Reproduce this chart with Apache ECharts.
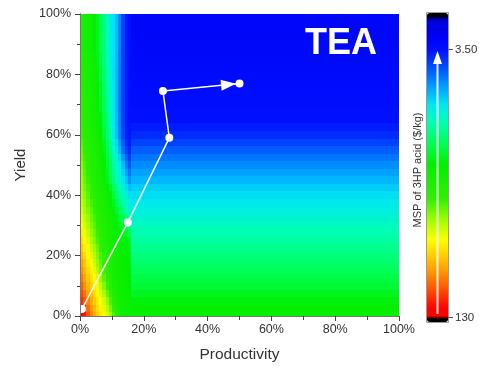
<!DOCTYPE html>
<html>
<head>
<meta charset="utf-8">
<script src="https://cdn.jsdelivr.net/npm/echarts@6/dist/echarts.min.js"></script>
<style>
  html, body { margin: 0; padding: 0; background: #fff; }
  #chart { width: 479px; height: 368px; }
</style>
</head>
<body>
<div id="chart"></div>
<script>
// ---- Data ---------------------------------------------------------------
// Low-productivity band: productivity columns (%), each cell spans [p, p + 1]
const bandProductivity = [0, 1, 2, 3, 4, 5, 6, 7, 8, 9, 10, 11, 12, 13, 14, 15];
// Yield rows (%) of the band
const bandYield = [0, 2.5, 5, 7.5, 10, 12.5, 15, 17.5, 20, 22.5, 25, 27.5, 30, 32.5, 35, 37.5,
  40, 42.5, 45, 47.5, 50, 52.5, 55, 57.5, 60, 65, 70, 75, 80, 85, 90, 95, 100];
// MSP of 3HP acid ($/kg) in the band, one row per yield
const bandMSP = [
  [125, 110, 90, 75, 65, 57, 50, 46, 40, 35, 28, 23, 20, 19, 18.5, 18],
  [112, 99, 82, 70, 61, 53, 48, 43, 37, 31, 26, 22, 20, 19, 18.2, 17.8],
  [100, 88, 75, 65, 57, 50, 46, 40, 34, 28, 24, 21, 19.5, 18.5, 18, 17.5],
  [92, 80, 68, 60, 53, 47, 42, 36, 30, 26, 22.5, 20.5, 19.2, 18.2, 17.7, 17.2],
  [85, 72, 62, 55, 49, 45, 38, 32, 27, 24, 21, 20, 19, 18, 17.5, 17],
  [78, 67, 58, 51, 46, 41, 34, 29, 25.5, 23, 20.5, 19.5, 18.5, 17.7, 17.2, 16.8],
  [72, 62, 54, 48, 43, 37, 31, 27, 24, 22, 20, 19, 18, 17.5, 17, 16.5],
  [67, 58, 50, 45, 40, 34, 29.5, 26, 23.5, 21.5, 20, 19, 18, 17.2, 16.7, 16.2],
  [62, 54, 47, 42, 37, 32, 28, 25, 23, 21, 20, 19, 18, 17, 16.5, 16],
  [57, 50, 44, 39, 34.5, 30, 26.5, 24, 22, 20.5, 19.5, 18.5, 17.5, 16.8, 16.2, 15.5],
  [53, 47, 41, 36, 32, 28, 25, 23, 21, 20, 19, 18, 17, 16.5, 16, 15],
  [49, 44, 38.5, 34, 30.5, 27, 24.5, 22.5, 21, 20, 18.8, 17.5, 16.3, 15.3, 14.3, 13],
  [46, 41, 36, 32, 29, 26, 24, 22, 21, 20, 18.5, 17, 15.5, 14, 12.5, 11],
  [43.5, 38.5, 34, 30.5, 27.5, 25, 23, 21.5, 20.5, 19.3, 17.5, 15.8, 14, 12.5, 11, 9.8],
  [41, 36, 32, 29, 26, 24, 22, 21, 20, 18.5, 16.5, 14.5, 12.5, 11, 9.5, 8.5],
  [39, 34.5, 30.5, 27.5, 25, 23, 21.5, 20.5, 19, 17.3, 15.2, 13.2, 11.2, 10, 8.7, 7.8],
  [37, 33, 29, 26, 24, 22, 21, 20, 18, 16, 14, 12, 10, 9, 8, 7.2],
  [36, 31.5, 28, 25, 23, 21.5, 20.5, 19, 16.5, 14.5, 12.5, 10.7, 9.2, 8.2, 7.2, 6.4],
  [35, 30, 27, 24, 22, 21, 20, 18, 15, 13, 11, 9.5, 8.5, 7.5, 6.5, 5.6],
  [34, 29, 26, 23.5, 22, 21, 19.5, 17.5, 14.5, 12.5, 10.5, 9.1, 8.1, 7, 5.9, 5.1],
  [33, 28, 25, 23, 22, 21, 19, 17, 14, 12, 10, 8.8, 7.8, 6.5, 5.3, 4.6],
  [31.5, 27, 24.5, 22.5, 21.5, 20.5, 18.5, 16.3, 13.5, 11.2, 9.4, 8.2, 7, 5.7, 4.8, 4.2],
  [30, 26, 24, 22, 21, 20, 18, 15.5, 13, 10.5, 8.8, 7.6, 6.3, 5.0, 4.3, 3.9],
  [28.5, 25, 23, 21.5, 20.5, 19.5, 17.5, 14.8, 12.2, 10, 8.3, 7.1, 5.8, 4.7, 4.0, 3.7],
  [27, 24, 22, 21, 20, 19, 17, 14, 11.5, 9.5, 7.8, 6.6, 5.4, 4.4, 3.8, 3.6],
  [26, 23, 21.5, 20.5, 19.5, 18, 16, 13, 11, 9, 7.6, 6.5, 5.3, 4.3, 3.7, 3.5],
  [25, 22.5, 21, 20, 19, 17, 15, 12.5, 10.5, 8.7, 7.5, 6.4, 5.2, 4.3, 3.7, 3.5],
  [24, 22, 21, 20, 18.5, 16.5, 14.5, 12, 10, 8.4, 7.4, 6.4, 5.2, 4.3, 3.7, 3.5],
  [23, 21.5, 20.5, 19.5, 18, 16, 14, 11.5, 9.6, 8.2, 7.3, 6.4, 5.2, 4.3, 3.7, 3.5],
  [22, 21, 20, 19, 17.5, 15.5, 13.5, 11, 9.3, 8, 7.3, 6.4, 5.3, 4.3, 3.7, 3.5],
  [21.5, 20.5, 19.5, 18.5, 17, 15, 13, 11, 9.2, 7.9, 7.3, 6.5, 5.4, 4.3, 3.7, 3.5],
  [21, 20, 19.5, 18.5, 17, 15, 13, 11, 9, 7.8, 7.3, 6.5, 5.4, 4.3, 3.7, 3.5],
  [21, 20, 19.5, 18.5, 17, 15, 13, 11, 9, 7.8, 7.3, 6.5, 5.4, 4.3, 3.7, 3.5]
];
// Higher productivity: MSP depends on yield only
const plateauProductivity = [16, 100];
const plateauYield = [0, 2.5, 5, 7.5, 10, 12.5, 15, 17.5, 20, 22.5, 25, 27.5, 30, 32.5, 35, 37.5,
  40, 42.5, 45, 47.5, 50, 52.5, 55, 57.5, 60, 62.5, 65, 67.5, 70, 72.5, 75, 77.5,
  80, 82.5, 85, 87.5, 90, 92.5, 95, 97.5, 100];
const plateauMSP = [18, 17, 16, 15, 14, 13.2, 12.5, 11.8, 11.2, 10.6, 10, 9.5, 9, 8.5, 8, 7.6,
  7.2, 6.8, 6.3, 5.9, 5.5, 5.1, 4.7, 4.3, 3.95, 3.7, 3.55, 3.5, 3.45, 3.42, 3.4, 3.37,
  3.35, 3.32, 3.3, 3.28, 3.26, 3.24, 3.22, 3.2, 3.2];
// Development trajectory (productivity %, yield %)
const pathProductivity = [0.6, 15, 28, 26, 50];
const pathYield = [2.3, 31, 59, 74.5, 77];
// Colour-scale range ($/kg, log scale) and its labelled ticks
const mspRange = [2.155, 139];
const scaleTicks = [3.5, 130];
const scaleTickLabels = ['3.50', '130'];

// ---- Colour scale ---------------------------------------------------------
const colorStops = [
  [0.000, [0, 0, 0]], [0.013, [0, 0, 0]], [0.016, [0, 0, 150]], [0.03, [0, 0, 225]],
  [0.08, [0, 0, 245]], [0.12, [0, 16, 255]], [0.15, [0, 48, 255]], [0.19, [0, 96, 255]],
  [0.256, [0, 180, 255]], [0.298, [0, 232, 240]], [0.353, [0, 255, 180]],
  [0.427, [0, 255, 80]], [0.49, [0, 240, 0]], [0.60, [48, 240, 0]], [0.67, [160, 255, 0]],
  [0.735, [255, 255, 0]], [0.83, [255, 160, 0]], [0.895, [255, 80, 0]],
  [0.955, [255, 0, 0]], [0.984, [255, 0, 0]], [0.987, [0, 0, 0]], [1.0, [0, 0, 0]]
];
function rampColor(t) {
  for (let i = 1; i < colorStops.length; i++) {
    const [t1, c1] = colorStops[i];
    const [t0, c0] = colorStops[i - 1];
    if (t <= t1) {
      const f = t1 === t0 ? 0 : (t - t0) / (t1 - t0);
      const c = c0.map((v, k) => Math.round(v + (c1[k] - v) * f));
      return 'rgb(' + c.join(',') + ')';
    }
  }
  return 'rgb(0,0,0)';
}
const rampColors = [];
for (let i = 0; i <= 308; i++) rampColors.push(rampColor(i / 308));

const logMin = Math.log10(mspRange[0]);
const logMax = Math.log10(mspRange[1]);

// ---- Cells ------------------------------------------------------------------
// Row edges sit halfway between neighbouring rows, clipped to the axis range
function rowEdges(rows) {
  return rows.map((v, i) => [
    i === 0 ? 0 : (rows[i - 1] + v) / 2,
    i === rows.length - 1 ? 100 : (v + rows[i + 1]) / 2
  ]);
}
const bandEdges = rowEdges(bandYield);
const bandCells = [];
bandYield.forEach((yv, i) => {
  bandProductivity.forEach((pv, j) => {
    bandCells.push([pv, pv + 1, bandEdges[i][0], bandEdges[i][1], Math.log10(bandMSP[i][j])]);
  });
});
const plateauEdges = rowEdges(plateauYield);
const plateauCells = plateauYield.map((yv, i) => [
  plateauProductivity[0], plateauProductivity[1],
  plateauEdges[i][0], plateauEdges[i][1], Math.log10(plateauMSP[i])
]);
const pathData = pathProductivity.map((p, i) => [p, pathYield[i]]);

function renderCell(params, api) {
  const tl = api.coord([api.value(0), api.value(3)]);
  const br = api.coord([api.value(1), api.value(2)]);
  const x0 = Math.round(tl[0]), y0 = Math.round(tl[1]);
  const x1 = Math.round(br[0]), y1 = Math.round(br[1]);
  return {
    type: 'rect',
    shape: { x: x0, y: y0, width: x1 - x0, height: y1 - y0 },
    style: { fill: api.visual('color') }
  };
}

// Arrow head on the last leg of the trajectory, its tip touching the end marker
function renderArrow(params, api) {
  const a = api.coord([api.value(0), api.value(1)]);
  const b = api.coord([api.value(2), api.value(3)]);
  const dx = b[0] - a[0], dy = b[1] - a[1];
  const len = Math.sqrt(dx * dx + dy * dy);
  const ux = dx / len, uy = dy / len;
  const tip = [b[0] - ux * 3.5, b[1] - uy * 3.5];
  const base = [tip[0] - ux * 15, tip[1] - uy * 15];
  const nx = -uy * 5.5, ny = ux * 5.5;
  return {
    type: 'polygon',
    shape: { points: [tip, [base[0] + nx, base[1] + ny], [base[0] - nx, base[1] - ny]] },
    style: { fill: '#ffffff' }
  };
}

// ---- Colour bar geometry ----------------------------------------------------
const bar = { x: 427, y: 13, w: 21, h: 309 };
function barY(v) {
  return bar.y + (Math.log10(v) - logMin) / (logMax - logMin) * bar.h;
}
const font = 'Liberation Sans, Arial, sans-serif';
const barGraphics = [
  { type: 'rect', shape: { x: bar.x - 0.5, y: bar.y - 0.5, width: bar.w + 1, height: bar.h + 1 },
    style: { fill: 'none', stroke: '#9a9a9a', lineWidth: 1 }, z: 20 },
  { type: 'line', shape: { x1: bar.x + 10.5, y1: 314, x2: bar.x + 10.5, y2: 62 },
    style: { stroke: 'rgba(255,255,255,0.9)', lineWidth: 2 }, z: 20 },
  { type: 'polygon', shape: { points: [[bar.x + 10.5, 51], [bar.x + 6, 64], [bar.x + 15, 64]] },
    style: { fill: '#ffffff' }, z: 20 },
  { type: 'text', x: 418, y: 170, rotation: Math.PI / 2,
    style: { text: 'MSP of 3HP acid ($/kg)', fontFamily: font,
      fontSize: 11, fill: '#333', textAlign: 'center', textVerticalAlign: 'middle' }, z: 20 },
  { type: 'text', x: 341, y: 44,
    style: { text: 'TEA', fontFamily: font, fontWeight: 'bold',
      fontSize: 36, fill: '#ffffff', textAlign: 'center', textVerticalAlign: 'middle' }, z: 30 }
];
scaleTicks.forEach((v, i) => {
  const y = Math.round(barY(v)) + 0.5;
  barGraphics.push({ type: 'line', shape: { x1: bar.x + bar.w, y1: y, x2: bar.x + bar.w + 5, y2: y },
    style: { stroke: '#555', lineWidth: 1 }, z: 20 });
  barGraphics.push({ type: 'text', x: bar.x + bar.w + 7, y: y,
    style: { text: scaleTickLabels[i], fontFamily: font,
      fontSize: 11.5, fill: '#333', textAlign: 'left', textVerticalAlign: 'middle' }, z: 20 });
});

// ---- Chart -------------------------------------------------------------------
const chart = echarts.init(document.getElementById('chart'), null, { renderer: 'canvas' });
chart.setOption({
  animation: false,
  backgroundColor: '#ffffff',
  grid: { left: 80, top: 14, width: 319, height: 306, containLabel: false },
  xAxis: [{
    type: 'value', min: 0, max: 100, interval: 20, z: 10,
    name: 'Productivity', nameLocation: 'middle', nameGap: 31,
    nameTextStyle: { fontFamily: font, fontSize: 15.5, color: '#333' },
    axisLine: { show: true, lineStyle: { color: '#444', width: 1 } },
    axisTick: { show: true, length: 5, lineStyle: { color: '#444' } },
    minorTick: { show: true, splitNumber: 2, length: 4, lineStyle: { color: '#444' } },
    axisLabel: { formatter: '{value}%', fontFamily: font, fontSize: 12.5, color: '#333', margin: 7 },
    splitLine: { show: false }
  }, {
    type: 'value', min: 0, max: 100, position: 'top', z: 10,
    axisLine: { show: true, lineStyle: { color: '#777', width: 1 } },
    axisTick: { show: false }, axisLabel: { show: false }, splitLine: { show: false }
  }],
  yAxis: [{
    type: 'value', min: 0, max: 100, interval: 20, z: 10,
    name: 'Yield', nameLocation: 'middle', nameGap: 51,
    nameTextStyle: { fontFamily: font, fontSize: 15, color: '#333' },
    axisLine: { show: true, lineStyle: { color: '#444', width: 1 } },
    axisTick: { show: true, length: 5, lineStyle: { color: '#444' } },
    minorTick: { show: true, splitNumber: 2, length: 3, lineStyle: { color: '#444' } },
    axisLabel: { formatter: '{value}%', fontFamily: font, fontSize: 12.5, color: '#333', margin: 9 },
    splitLine: { show: false }
  }, {
    type: 'value', min: 0, max: 100, position: 'right', z: 10,
    axisLine: { show: true, lineStyle: { color: '#777', width: 1 } },
    axisTick: { show: false }, axisLabel: { show: false }, splitLine: { show: false }
  }],
  visualMap: {
    type: 'continuous', min: logMin, max: logMax, dimension: 4, seriesIndex: [0, 1],
    orient: 'vertical', inverse: true, calculable: false, hoverLink: false,
    left: bar.x, top: bar.y, itemWidth: bar.w, itemHeight: bar.h, padding: 0,
    inRange: { color: rampColors }, text: null, show: true
  },
  graphic: barGraphics,
  series: [{
    type: 'custom', name: 'band', renderItem: renderCell, data: bandCells,
    encode: { x: [0, 1], y: [2, 3] }, clip: true, silent: true, z: 1
  }, {
    type: 'custom', name: 'plateau', renderItem: renderCell, data: plateauCells,
    encode: { x: [0, 1], y: [2, 3] }, clip: true, silent: true, z: 1
  }, {
    type: 'line', name: 'trajectory', data: pathData, z: 5,
    symbol: 'circle', symbolSize: 8, showAllSymbol: true,
    lineStyle: { color: '#ffffff', width: 1.5 },
    itemStyle: { color: '#ffffff', borderWidth: 0 }, silent: true
  }, {
    type: 'custom', name: 'arrow', renderItem: renderArrow, z: 6, silent: true,
    data: [[pathProductivity[3], pathYield[3], pathProductivity[4], pathYield[4]]],
    encode: { x: [0, 2], y: [1, 3] }
  }]
});
</script>
</body>
</html>
